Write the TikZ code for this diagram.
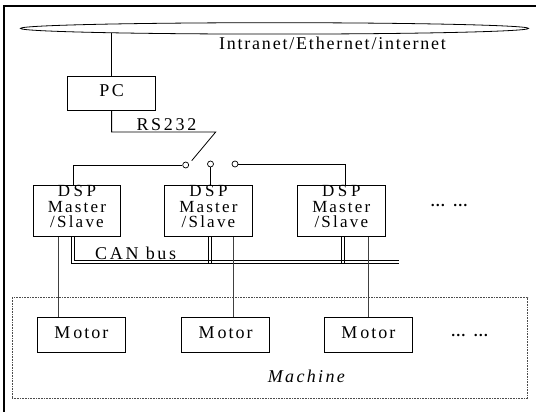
\documentclass[tikz,border=0pt]{standalone}
\usepackage{fontspec}
\setmainfont{Liberation Serif}
\usetikzlibrary{shapes.geometric,calc}
\newcommand{\lsp}[2]{{\addfontfeature{LetterSpace=#1}#2}}
\begin{document}
\begin{tikzpicture}[x=1pt,y=-1pt,
  every node/.style={inner sep=0pt, font=\fontsize{18}{18}\selectfont},
  box/.style={draw, line width=0.8pt, minimum width=87.4pt, minimum height=51.4pt},
  mbox/.style={draw, line width=0.8pt, minimum width=88pt, minimum height=35.2pt, text depth=5pt},
  pcbox/.style={draw, line width=0.8pt, minimum width=88.3pt, minimum height=34pt, text depth=6pt},
  wire/.style={line width=0.8pt},
  gwire/.style={line width=1pt, black!75},
  bus/.style={line width=0.9pt},
  port/.style={circle, draw, line width=0.7pt, minimum size=6pt},
  dsptext/.style={align=center, font=\fontsize{17}{15.5}\selectfont},
  dotstext/.style={font=\bfseries\fontsize{15}{15}\selectfont}
]
\useasboundingbox (0,0) rectangle (536,412);
\draw[line width=1.4pt] (4,413) -- (4,6) -- (537,6);

% network
\node[draw, ellipse, line width=0.8pt, minimum width=508pt, minimum height=11.4pt] (net) at (274.5,28.4) {};
\node[anchor=base west] (netlbl) at (218.8,50) {\lsp{10}{Intranet/Ethernet/internet}};

% PC
\node[pcbox] (pc) at (111.6,93.7) {\lsp{14}{PC}};
\draw[wire] (pc.north) -- ($(pc.north |- net.south)+(0,-1.3)$);

% RS232 and switch
\coordinate (swtop) at (215.7,132);
\coordinate (swtip) at (191.7,160.7);
\draw[wire] (pc.south) |- (swtop) -- (swtip);
\node[anchor=base west] (rs) at (136.3,130) {\lsp{15}{RS232}};
\node[port] (p1) at (185.7,165) {};
\node[port] (p2) at (210.5,164) {};
\node[port] (p3) at (235,164) {};

% DSP boxes
\node[box] (d1) at (77,211) {};
\node[box] (d2) at (208.5,211) {};
\node[box] (d3) at (341.3,211) {};
\foreach \b in {1,2,3}{
  \node[dsptext] (t\b) at ($(d\b.center)+(0,-4.5)$) {\lsp{21}{DSP}\\\lsp{13}{M\kern2pt aster}\\\lsp{13}{/Slave}};
}
\draw[wire] (p1.west) -| ([xshift=-3.7pt]d1.north);
\draw[wire] (p2.south) -- (p2.south |- d2.north);
\draw[wire] (p3.east) -| ([xshift=3.7pt]d3.north);
\node[dotstext, anchor=base] (dotsA) at (449,206.5) {…\hspace{7.5pt}…};

% CAN bus
\coordinate (busA) at (398.5,260.5);
\coordinate (busB) at (398.5,263.3);
\draw[bus] ([xshift=-6pt]d1.south) |- (busB);
\draw[bus] ([xshift=-3pt]d1.south) |- (busA);
\draw[bus] (d2.south) -- (d2.south |- busB);
\draw[bus] ([xshift=3pt]d2.south) -- ([xshift=3pt]d2.south |- busB);
\draw[bus] ([xshift=0.4pt]d3.south) -- ([xshift=0.4pt]d3.south |- busB);
\draw[bus] ([xshift=3pt]d3.south) -- ([xshift=3pt]d3.south |- busB);
\node[anchor=base west] (can) at (95,259.8) {\lsp{15}{CAN bus}};

% Machine
\node[draw, densely dotted, line width=0.6pt, black!70, minimum width=515.7pt, minimum height=100.8pt] (mach) at (269.85,347.9) {};
\node[mbox] (m1) at (81.3,335.1) {\lsp{11}{M\kern3pt otor}};
\node[mbox] (m2) at (225.6,335.1) {\lsp{11}{M\kern3pt otor}};
\node[mbox] (m3) at (368.35,335.1) {\lsp{11}{M\kern3pt otor}};
\draw[gwire] ([xshift=-18.8pt]d1.south) -- ([xshift=-18.8pt]d1.south |- m1.north);
\draw[gwire] ([xshift=24.8pt]d2.south) -- ([xshift=24.8pt]d2.south |- m2.north);
\draw[gwire] ([xshift=27pt]d3.south) -- ([xshift=27pt]d3.south |- m3.north);
\node[dotstext, anchor=base] (dotsB) at (469.5,336.5) {…\hspace{7.5pt}…};
\node[anchor=base] (machlbl) at (306.4,382.5) {\itshape\lsp{13}{Machine}};
\end{tikzpicture}
\end{document}
